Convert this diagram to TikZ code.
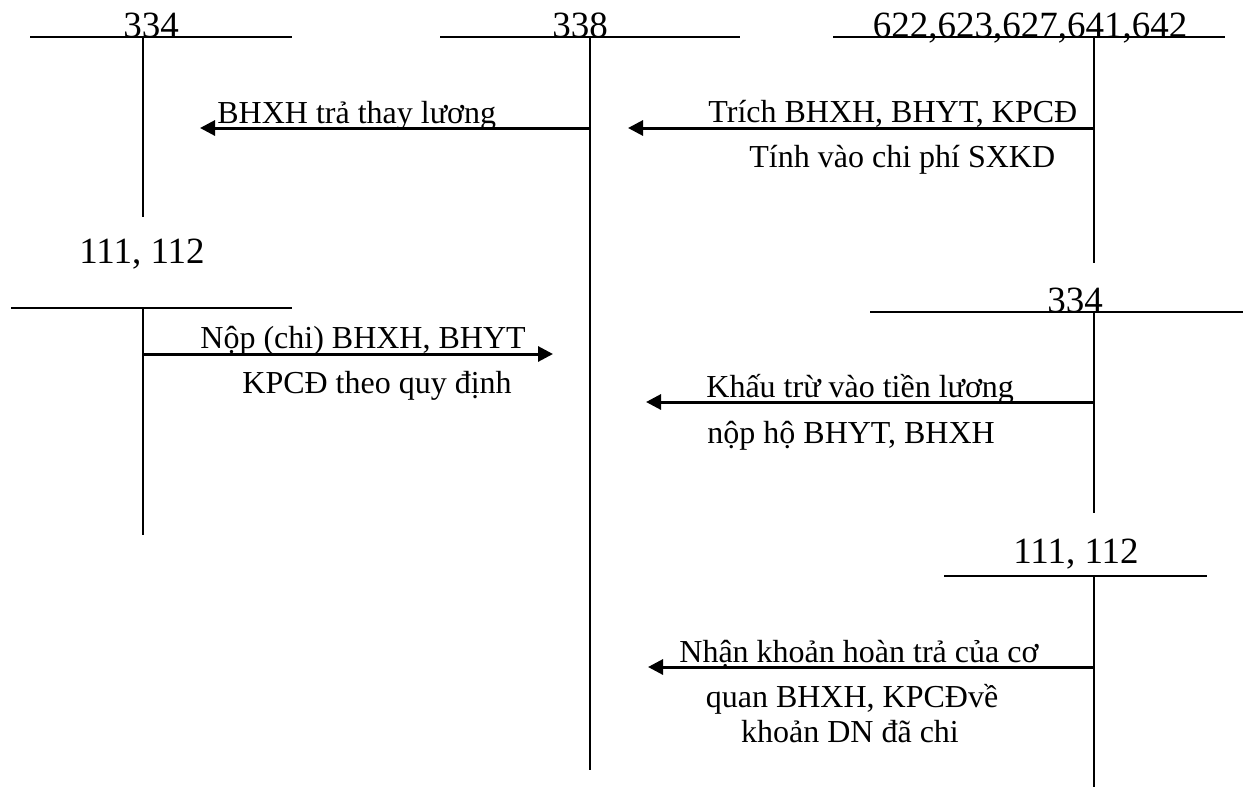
\documentclass[tikz,border=0pt]{standalone}
\usepackage{fontspec}
\setmainfont{Liberation Serif}
\usetikzlibrary{arrows.meta}

\begin{document}
\begin{tikzpicture}[
  x=0.5pt, y=-0.5pt,
  every node/.style={inner sep=0pt},
  acct/.style={font=\fontsize{18.5}{21}\selectfont, anchor=base},
  note/.style={font=\fontsize{16}{19}\selectfont, anchor=base west},
  notec/.style={font=\fontsize{16}{19}\selectfont, anchor=base},
  tline/.style={line width=1pt},
  post/.style={-{Triangle[length=7.5pt,width=7.5pt]}, line width=1.5pt},
]
  \useasboundingbox (0,0) rectangle (1251,787);

  % Top row: T-accounts 334, 338, 622...
  \node[acct] (acc334a) at (151, 37)  {334};
  \node[acct] (acc338)  at (580, 37)  {338};
  \node[acct] (acc622)  at (1030, 37) {622,623,627,641,642};

  \coordinate (l334a) at (30, 37);   \coordinate (r334a) at (292, 37);
  \coordinate (t334a) at (143, 37);  \coordinate (b334a) at (143, 217);
  \coordinate (l338)  at (440, 37);  \coordinate (r338)  at (740, 37);
  \coordinate (t338)  at (590, 37);  \coordinate (b338)  at (590, 770);
  \coordinate (l622)  at (833, 37);  \coordinate (r622)  at (1225, 37);
  \coordinate (t622)  at (1094, 37); \coordinate (b622)  at (1094, 263);

  \draw[tline] (l334a) -- (r334a);  \draw[tline] (t334a) -- (b334a);
  \draw[tline] (l338)  -- (r338);   \draw[tline] (t338)  -- (b338);
  \draw[tline] (l622)  -- (r622);   \draw[tline] (t622)  -- (b622);

  % Left: 111, 112
  \node[acct] (acc111a) at (142, 263) {111, 112};
  \coordinate (l111a) at (11, 308);  \coordinate (r111a) at (292, 308);
  \coordinate (t111a) at (143, 308); \coordinate (b111a) at (143, 535);
  \draw[tline] (l111a) -- (r111a);  \draw[tline] (t111a) -- (b111a);

  % Right: 334 and 111, 112
  \node[acct] (acc334b) at (1075, 312) {334};
  \coordinate (l334b) at (870, 312);  \coordinate (r334b) at (1243, 312);
  \coordinate (t334b) at (1094, 312); \coordinate (b334b) at (1094, 513);
  \draw[tline] (l334b) -- (r334b);  \draw[tline] (t334b) -- (b334b);

  \node[acct] (acc111b) at (1076, 563) {111, 112};
  \coordinate (l111b) at (944, 576);  \coordinate (r111b) at (1207, 576);
  \coordinate (t111b) at (1094, 576); \coordinate (b111b) at (1094, 787);
  \draw[tline] (l111b) -- (r111b);  \draw[tline] (t111b) -- (b111b);

  % Postings
  \coordinate (s1) at (590, 128);  \coordinate (e1) at (200, 128);
  \coordinate (s2) at (1094, 128); \coordinate (e2) at (628, 128);
  \coordinate (s3) at (143, 354);  \coordinate (e3) at (553, 354);
  \coordinate (s4) at (1094, 402); \coordinate (e4) at (646, 402);
  \coordinate (s5) at (1094, 667); \coordinate (e5) at (648, 667);

  \draw[post] (s1) -- (e1);
  \draw[post] (s2) -- (e2);
  \draw[post] (s3) -- (e3);
  \draw[post] (s4) -- (e4);
  \draw[post] (s5) -- (e5);

  \node[note] (n1)  at (217, 123) {BHXH trả thay lương};
  \node[note] (n2a) at (708, 122) {Trích BHXH, BHYT, KPCĐ};
  \node[note] (n2b) at (749, 167) {Tính vào chi phí SXKD};
  \node[note] (n3a) at (200, 348) {Nộp (chi) BHXH, BHYT};
  \node[note] (n3b) at (242, 393) {KPCĐ theo quy định};
  \node[note] (n4a) at (706, 397) {Khấu trừ vào tiền lương};
  \node[note] (n4b) at (707, 443) {nộp hộ BHYT, BHXH};
  \node[note] (n5a) at (679, 662) {Nhận khoản hoàn trả của cơ};
  \node[notec] (n5b) at (852, 707) {quan BHXH, KPCĐvề};
  \node[notec] (n5c) at (850, 742) {khoản DN đã chi};
\end{tikzpicture}
\end{document}
